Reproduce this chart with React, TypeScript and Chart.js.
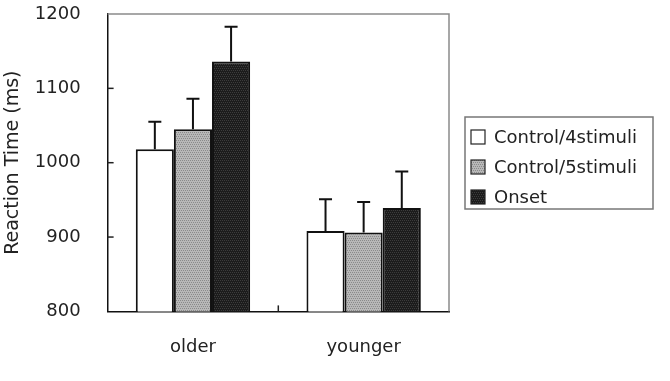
import React, { useEffect, useRef } from "react";
import { Chart, registerables } from "chart.js";

Chart.register(...registerables);

const categories = ["older", "younger"];
const seriesLabels = ["Control/4stimuli", "Control/5stimuli", "Onset"];
const control4 = [1018, 908];
const control4Err = [37, 43];
const control5 = [1045, 906];
const control5Err = [41, 41];
const onset = [1136, 939];
const onsetErr = [47, 49];
const yTicks = [800, 900, 1000, 1100, 1200];
const yTitle = "Reaction Time (ms)";

const FONT = '"DejaVu Sans", sans-serif';

function makePattern(base: string, dots: string, step: number) {
  const c = document.createElement("canvas");
  c.width = 4;
  c.height = 4;
  const g = c.getContext("2d")!;
  g.fillStyle = base;
  g.fillRect(0, 0, 4, 4);
  g.fillStyle = dots;
  for (let y = 0; y < 4; y += step) {
    for (let x = (y / step) % 2; x < 4; x += 2) {
      g.fillRect(x, y, 1, 1);
    }
  }
  const ctx = document.createElement("canvas").getContext("2d")!;
  return ctx.createPattern(c, "repeat") as CanvasPattern;
}

export default function App() {
  const ref = useRef<HTMLCanvasElement | null>(null);

  useEffect(() => {
    if (!ref.current) return;
    const grayFill = makePattern("#b8b8b8", "#8a8a8a", 2);
    const blackFill = makePattern("#1c1c1c", "#3c3c3c", 2);
    const fills = ["#ffffff", grayFill, blackFill];
    const errs = [control4Err, control5Err, onsetErr];

    const decor = {
      id: "decor",
      beforeDatasetsDraw(chart: any) {
        const { ctx, chartArea } = chart;
        ctx.save();
        ctx.strokeStyle = "#8a8a8a";
        ctx.lineWidth = 1.5;
        ctx.beginPath();
        ctx.moveTo(chartArea.left, chartArea.top);
        ctx.lineTo(chartArea.right, chartArea.top);
        ctx.lineTo(chartArea.right, chartArea.bottom);
        ctx.stroke();
        const ys = chart.scales.y;
        ctx.strokeStyle = "#222";
        ctx.lineWidth = 1.5;
        yTicks.forEach((v) => {
          if (v === yTicks[0] || v === yTicks[yTicks.length - 1]) return;
          const py = ys.getPixelForValue(v);
          ctx.beginPath();
          ctx.moveTo(chartArea.left, py);
          ctx.lineTo(chartArea.left + 6, py);
          ctx.stroke();
        });
        const xs = chart.scales.x;
        for (let i = 0; i < categories.length - 1; i++) {
          const px = (xs.getPixelForValue(i) + xs.getPixelForValue(i + 1)) / 2;
          ctx.beginPath();
          ctx.moveTo(px, chartArea.bottom);
          ctx.lineTo(px, chartArea.bottom - 6);
          ctx.stroke();
        }
        ctx.restore();
      },
      afterDatasetsDraw(chart: any) {
        const { ctx } = chart;
        const ys = chart.scales.y;
        ctx.save();
        ctx.strokeStyle = "#111";
        ctx.lineWidth = 2;
        chart.data.datasets.forEach((ds: any, di: number) => {
          const meta = chart.getDatasetMeta(di);
          meta.data.forEach((el: any, i: number) => {
            const v = ds.data[i];
            const top = ys.getPixelForValue(v + errs[di][i]);
            ctx.beginPath();
            ctx.moveTo(el.x, el.y);
            ctx.lineTo(el.x, top);
            ctx.moveTo(el.x - 6.5, top);
            ctx.lineTo(el.x + 6.5, top);
            ctx.stroke();
          });
        });
        const lx = 465, ly = 117, lw = 188, lh = 92;
        ctx.strokeStyle = "#777";
        ctx.lineWidth = 1.5;
        ctx.strokeRect(lx, ly, lw, lh);
        ctx.font = "18px " + FONT;
        ctx.textBaseline = "middle";
        ctx.textAlign = "left";
        chart.data.datasets.forEach((ds: any, di: number) => {
          const cy = ly + 20 + di * 30;
          ctx.fillStyle = ds.backgroundColor;
          ctx.fillRect(lx + 6, cy - 7, 14, 14);
          ctx.strokeStyle = "#222";
          ctx.lineWidth = 1.2;
          ctx.strokeRect(lx + 6, cy - 7, 14, 14);
          ctx.fillStyle = "#222";
          ctx.fillText(ds.label, lx + 29, cy + 1);
        });
        ctx.restore();
      },
    };

    const seriesData = [control4, control5, onset];
    const hiddenTicks = (len: number) => ({
      display: true,
      drawOnChartArea: false,
      drawTicks: true,
      tickLength: len,
      color: "rgba(0,0,0,0)",
      tickColor: "rgba(0,0,0,0)",
    });
    const chart = new Chart(ref.current, {
      type: "bar",
      data: {
        labels: categories,
        datasets: seriesLabels.map((label, i) => ({
          label,
          data: seriesData[i],
          backgroundColor: fills[i] as any,
          borderColor: "#111",
          borderWidth: 2,
          categoryPercentage: 0.67,
          barPercentage: 1,
        })),
      },
      options: {
        responsive: false,
        animation: false,
        devicePixelRatio: 1,
        layout: { padding: { left: 2, top: 14, right: 221, bottom: 23 } },
        plugins: { legend: { display: false }, tooltip: { enabled: false } },
        scales: {
          x: {
            grid: hiddenTicks(25),
            border: { display: true, color: "#111", width: 1.5 },
            ticks: { font: { family: FONT, size: 18 }, color: "#222", padding: 0 },
          },
          y: {
            min: yTicks[0],
            max: yTicks[yTicks.length - 1],
            afterBuildTicks: (scale: any) => {
              scale.ticks = yTicks.map((v) => ({ value: v }));
            },
            grid: hiddenTicks(27),
            border: { display: true, color: "#111", width: 1.5 },
            ticks: {
              font: { family: FONT, size: 18 },
              color: "#222",
              padding: 0,
              callback: (v: any) => String(v),
            },
            title: {
              display: true,
              text: yTitle,
              font: { family: FONT, size: 19 },
              color: "#222",
              padding: { top: 0, bottom: 10 },
            },
          },
        },
      },
      plugins: [decor],
    });
    return () => chart.destroy();
  }, []);

  return (
    <div style={{ position: "absolute", left: 0, top: 0, width: 670, height: 381, background: "#fff" }}>
      <canvas ref={ref} width={670} height={381} style={{ display: "block" }} />
    </div>
  );
}
